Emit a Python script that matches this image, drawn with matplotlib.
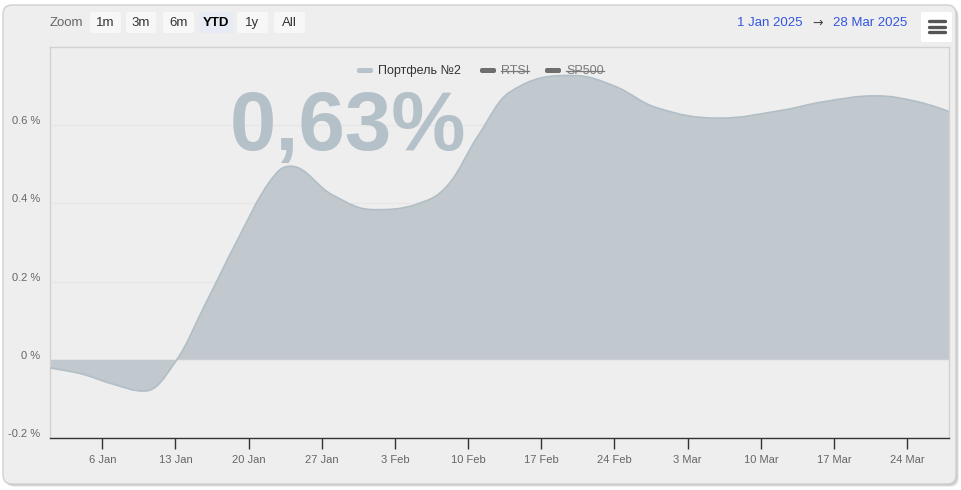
import numpy as np
import matplotlib
matplotlib.use('Agg')
import matplotlib.pyplot as plt
from matplotlib.path import Path
from matplotlib.patches import PathPatch, FancyBboxPatch
from matplotlib.lines import Line2D
from matplotlib.transforms import Affine2D, ScaledTranslation

plt.rcParams['font.family'] = ['Liberation Sans', 'DejaVu Sans']

# ---------------- data ----------------
dates = ['2025-01-01', '2025-01-04', '2025-01-07', '2025-01-10', '2025-01-13',
         '2025-01-16', '2025-01-19', '2025-01-22', '2025-01-24', '2025-01-28',
         '2025-02-01', '2025-02-05', '2025-02-08', '2025-02-11', '2025-02-14',
         '2025-02-20', '2025-02-24', '2025-02-28', '2025-03-06', '2025-03-12',
         '2025-03-16', '2025-03-21', '2025-03-25', '2025-03-28']
values = [-0.021, -0.036, -0.062, -0.080, -0.005,
          0.150, 0.310, 0.455, 0.495, 0.422,
          0.384, 0.397, 0.445, 0.575, 0.685,
          0.727, 0.700, 0.645, 0.618, 0.638,
          0.660, 0.675, 0.660, 0.635]

xtick_dates = ['2025-01-06', '2025-01-13', '2025-01-20', '2025-01-27', '2025-02-03',
               '2025-02-10', '2025-02-17', '2025-02-24', '2025-03-03', '2025-03-10',
               '2025-03-17', '2025-03-24']
xtick_labels = ['6 Jan', '13 Jan', '20 Jan', '27 Jan', '3 Feb', '10 Feb', '17 Feb',
                '24 Feb', '3 Mar', '10 Mar', '17 Mar', '24 Mar']
ytick_values = [-0.2, 0.0, 0.2, 0.4, 0.6]
ytick_labels = ['-0.2 %', '0 %', '0.2 %', '0.4 %', '0.6 %']
range_buttons = ['1m', '3m', '6m', 'YTD', '1y', 'All']
selected_button = 'YTD'
legend_names = ['Портфель №2', 'RTSI', 'SP500']
legend_hidden = [False, True, True]
last_label = '0,63%'
range_from = '1 Jan 2025'
range_to = '28 Mar 2025'
start_date = '2025-01-01'
end_date = '2025-03-28'

# ---------------- helpers ----------------
start = np.datetime64(start_date)
def to_x(ds):
    return (np.array(ds, dtype='datetime64[D]') - start).astype(float)

xs = to_x(dates)
ys = np.array(values, dtype=float)
x_end = float(to_x([end_date])[0])


def spline_path(xv, yv, smoothing=1.5):
    n = len(xv)
    lc = [None] * n
    rc = [None] * n
    denom = smoothing + 1
    for i in range(1, n - 1):
        x, y = xv[i], yv[i]
        lx, ly = xv[i - 1], yv[i - 1]
        nx, ny = xv[i + 1], yv[i + 1]
        lcx = (smoothing * x + lx) / denom
        lcy = (smoothing * y + ly) / denom
        rcx = (smoothing * x + nx) / denom
        rcy = (smoothing * y + ny) / denom
        if rcx != lcx:
            corr = ((rcy - lcy) * (rcx - x)) / (rcx - lcx) + y - rcy
            lcy += corr
            rcy += corr
        if lcy > ly and lcy > y:
            lcy = max(ly, y); rcy = 2 * y - lcy
        elif lcy < ly and lcy < y:
            lcy = min(ly, y); rcy = 2 * y - lcy
        if rcy > ny and rcy > y:
            rcy = max(ny, y); lcy = 2 * y - rcy
        elif rcy < ny and rcy < y:
            rcy = min(ny, y); lcy = 2 * y - rcy
        lc[i] = (lcx, lcy)
        rc[i] = (rcx, rcy)
    verts = [(xv[0], yv[0])]
    codes = [Path.MOVETO]
    for i in range(1, n):
        c1 = rc[i - 1] if rc[i - 1] is not None else (xv[i - 1], yv[i - 1])
        c2 = lc[i] if lc[i] is not None else (xv[i], yv[i])
        verts += [c1, c2, (xv[i], yv[i])]
        codes += [Path.CURVE4] * 3
    return verts, codes


W, H = 962, 490
fig = plt.figure(figsize=(W / 100, H / 100), dpi=100)
fig.patch.set_facecolor('white')
px = Affine2D().scale(1, -1).translate(0, H)  # pixel coords, origin top-left

# chart frame with shadow
for off, a in [(3, 0.18), (2, 0.25), (1, 0.35)]:
    fig.add_artist(FancyBboxPatch((3 + off, 5 + off), 953, 479,
                                  boxstyle='round,pad=0,rounding_size=9',
                                  transform=px, fc='#9a9a9a', ec='none', alpha=a, zorder=-5))
fig.add_artist(FancyBboxPatch((3, 5), 953, 479, boxstyle='round,pad=0,rounding_size=9',
                              transform=px, fc='#eeeeee', ec='#d0d0d0', lw=1, zorder=-4))

# ---------------- axes ----------------
ax = fig.add_axes([50 / W, (H - 438) / H, 899 / W, 391 / H])
ax.set_facecolor('#eeeeee')
ax.set_xlim(0, x_end)
ax.set_ylim(-0.2, 0.8)

for s in ['left', 'right', 'top']:
    ax.spines[s].set_color('#d2d2d2')
    ax.spines[s].set_linewidth(1)
ax.spines['bottom'].set_color('#333333')
ax.spines['bottom'].set_linewidth(1)

ax.set_yticks(ytick_values)
ax.set_yticklabels(ytick_labels)
ax.tick_params(axis='y', length=0, pad=7, labelsize=8, labelcolor='#666666')
for lab in ax.get_yticklabels():
    lab.set_transform(lab.get_transform() + ScaledTranslation(0, 5 / 100, fig.dpi_scale_trans))
ax.yaxis.grid(True, color='#e7e7e7', lw=1)
ax.set_axisbelow(True)

ax.set_xticks(to_x(xtick_dates))
ax.set_xticklabels(xtick_labels)
ax.tick_params(axis='x', direction='out', length=8, width=1, color='#333333',
               pad=4, labelsize=8, labelcolor='#666666')

# area spline
verts, codes = spline_path(xs, ys)
area_verts = verts + [(xs[-1], 0.0), (xs[0], 0.0), (xs[0], ys[0])]
area_codes = codes + [Path.LINETO, Path.LINETO, Path.CLOSEPOLY]
ax.add_patch(PathPatch(Path(area_verts, area_codes), fc='#c1c9cf', ec='none', zorder=2))
ax.add_patch(PathPatch(Path(verts, codes), fc='none', ec='#b2bec6', lw=1.2, zorder=3))

# big last value
ax.text(0.331, 0.792, last_label, transform=ax.transAxes, ha='center', va='center',
        fontsize=60, fontweight='bold', color='#b5c1c9', zorder=1)

# ---------------- legend ----------------
def ptext(x, y, s, **kw):
    kw.setdefault('zorder', 8)
    return fig.text(x / W, 1 - y / H, s, **kw)

leg_x = [357, 480, 545]
sw_colors = ['#b7c3ca', '#6e6e6e', '#6e6e6e']
txt_colors = ['#333333', '#7a7a7a', '#7a7a7a']
for i, name in enumerate(legend_names):
    x0 = leg_x[i]
    fig.add_artist(FancyBboxPatch((x0, 68), 16, 5, boxstyle='round,pad=0,rounding_size=2',
                                  transform=px, fc=sw_colors[i], ec='none', zorder=5))
    t = ptext(x0 + 21, 71, name, ha='left', va='center', fontsize=9, color=txt_colors[i])
    if legend_hidden[i]:
        r = t.get_window_extent(renderer=fig.canvas.get_renderer())
        fig.add_artist(Line2D([r.x0, r.x1], [H - 71, H - 71], transform=None,
                              color=txt_colors[i], lw=0.9, zorder=9))

# ---------------- range selector ----------------
ptext(66, 23, 'Zoom', ha='center', va='center', fontsize=9.5, color='#666666')
btn_x = [(90, 121), (126, 156), (163, 194), (199, 233), (237, 268), (274, 305)]
for (a, b), lab in zip(btn_x, range_buttons):
    sel = lab == selected_button
    fig.add_artist(FancyBboxPatch((a, 12), b - a, 21, boxstyle='round,pad=0,rounding_size=2',
                                  transform=px, fc='#e6ebf5' if sel else '#f7f7f7',
                                  ec='none', zorder=5))
    ptext((a + b) / 2, 23, lab, ha='center', va='center', fontsize=9.5,
          color='#000000' if sel else '#333333', fontweight='bold' if sel else 'normal')

ptext(803, 23, range_from, ha='right', va='center', fontsize=9.5, color='#3355e0')
ptext(818, 23, '→', ha='center', va='center', fontsize=9, color='#444444',
      family=['DejaVu Sans'])
ptext(833, 23, range_to, ha='left', va='center', fontsize=9.5, color='#3355e0')

# menu button
fig.add_artist(FancyBboxPatch((921, 12), 31, 30, boxstyle='round,pad=0,rounding_size=2',
                              transform=px, fc='#ffffff', ec='none', zorder=5))
for yy in [21, 27, 32]:
    fig.add_artist(Line2D([929 / W, 945 / W], [1 - yy / H, 1 - yy / H],
                          color='#555555', lw=2.4, solid_capstyle='round', zorder=6))

fig.savefig('out.png', dpi=100, facecolor='white')
